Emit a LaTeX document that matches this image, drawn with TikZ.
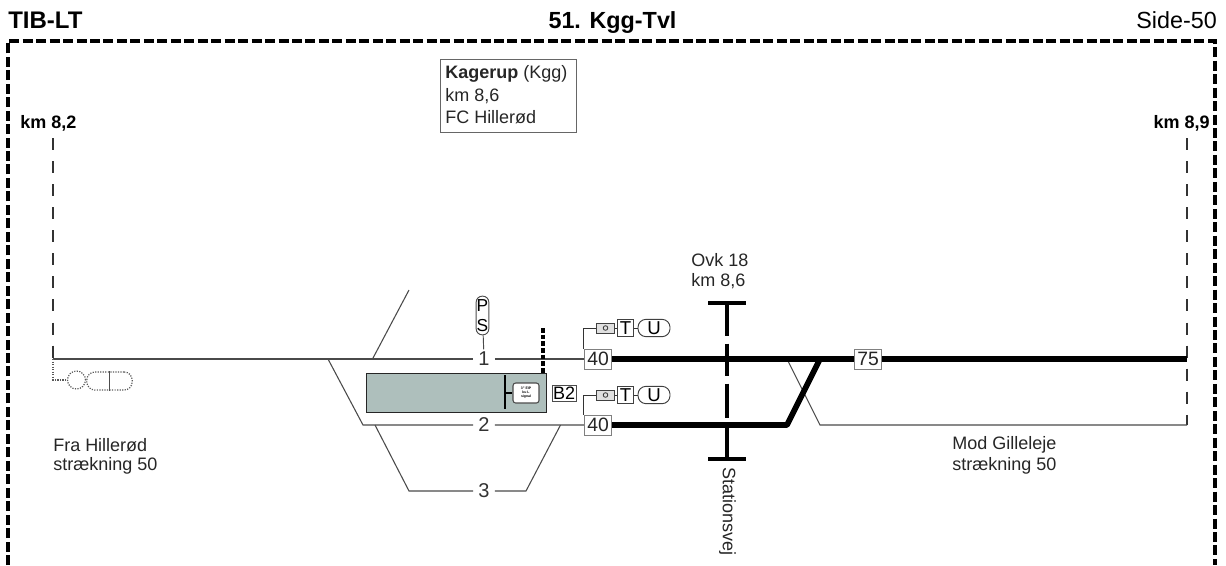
\documentclass[tikz,border=0pt]{standalone}
\usepackage{fontspec}
\setmainfont{Liberation Sans}
\definecolor{platform}{HTML}{AEBFBC}
\definecolor{trackgray}{HTML}{4A4A4A}
\tikzset{
  label/.style={font=\fontsize{13.5}{16}\selectfont, text=black!85, inner sep=0, align=left},
  kmlabel/.style={font=\bfseries\fontsize{13.5}{16}\selectfont, inner sep=0},
  headlabel/.style={font=\fontsize{17.5}{20}\selectfont, inner sep=0, anchor=base},
  trackno/.style={font=\fontsize{15}{18}\selectfont, fill=white, inner sep=0, minimum width=16, minimum height=14, text=black!80},
  speed/.style={draw=black!50, semithick, fill=white, font=\fontsize{14.5}{17}\selectfont, inner sep=0, minimum width=20.5, minimum height=15, text=black!85},
  thin track/.style={trackgray, line width=.8},
  thick track/.style={black, line width=4.3},
  km post/.style={black!80, line width=1.8, dash pattern=on 9 off 8.3},
  sigpart/.style={draw=black!75, line width=.7, fill=white, inner sep=0, font=\fontsize{14}{16}\selectfont},
  ghost/.style={black!65, line width=.9, densely dotted}
}
\begin{document}
\begin{tikzpicture}[x=.75pt, y=-.75pt]
\useasboundingbox (0,0) rectangle (1226,565);
% head
\node[headlabel, font=\bfseries\fontsize{18}{20}\selectfont, anchor=base west] (head) at (8,28) {TIB-LT};
\node[headlabel, font=\bfseries\fontsize{17.5}{20}\selectfont] (title) at (612.5,28) {51. Kgg-Tvl};
\node[headlabel, anchor=base east] (side) at (1217,28) {Side-50};
\draw[black, line width=2.4, dash pattern=on 7.5 off 2.6] (8,565) -- (8,41) -- (1215,41) -- (1215,565);
% station box
\node[draw=black!60, line width=1, anchor=north west, minimum width=102, minimum height=54.5, inner sep=0] (stationbox) at (440,59) {};
\node[label, anchor=west] (stationname) at (445,74) {\textbf{Kagerup} (Kgg)};
\node[label, anchor=west] (stationkm) at (445,96) {km 8,6};
\node[label, anchor=west] (stationfc) at (445,117) {FC Hillerød};
% km posts
\node[kmlabel, anchor=west] (kmleft) at (20,123) {km 8,2};
\node[kmlabel, anchor=east] (kmright) at (1210,123) {km 8,9};
\coordinate (lefttop) at (53,138);
\coordinate (leftend) at (53,359);
\coordinate (righttop) at (1187,138);
\coordinate (rightmid) at (1187,359);
\coordinate (rightend) at (1187,425);
\draw[km post] (lefttop) -- (leftend);
\draw[km post] (righttop) -- (rightend);
% track nodes
\node[trackno] (one) at (484,359) {1};
\node[trackno] (two) at (484,425) {2};
\node[trackno] (three) at (484,491) {3};
\node[speed] (vone) at (598,359) {40};
\node[speed] (vtwo) at (598,425) {40};
\node[speed] (vmain) at (868,359) {75};
\coordinate (a) at (328,359);
\coordinate (b) at (363,425);
\coordinate (c) at (372.5,359);
\coordinate (d) at (409,290);
\coordinate (e) at (375,425);
\coordinate (f) at (409,491);
\coordinate (g) at (526,491);
\coordinate (h) at (560.5,425);
\coordinate (k) at (787,359);
\coordinate (l) at (820,425);
\coordinate (m) at (787,425);
\coordinate (n) at (820,359);
% thin tracks
\draw[thin track] (leftend) -- (one) -- (vone);
\draw[thin track] (a) -- (b) -- (two) -- (vtwo);
\draw[thin track] (c) -- (d);
\draw[thin track] (e) -- (f) -- (three) -- (g) -- (h);
\draw[thin track] (k) -- (l) -- (rightend);
% thick tracks
\draw[thick track] (vone) -- (vmain) -- (rightmid);
\draw[thick track, line join=round] (vtwo) -- (m) -- (n);
% platform
\node[draw=black!85, line width=1, fill=platform, anchor=north west, minimum width=135, minimum height=29, inner sep=0] (platformbox) at (366,373) {};
\coordinate (divtop) at (505,375);
\coordinate (divbot) at (505,409);
\coordinate (divmid) at (505,393);
\draw[black, line width=.8] (divtop) -- (divbot);
\node[draw=black!70, line width=.8, fill=white, rounded corners=2, minimum width=19.5, minimum height=15, inner sep=0, align=center, font=\bfseries\fontsize{2.6}{3}\selectfont] (stopbox) at (526,393) {3'' EIP\\ku L\\signal};
\draw[black, line width=.8] (divmid) -- (stopbox);
\coordinate (stoptop) at (543,328);
\coordinate (stopfoot) at (543,373);
\draw[black, line width=2.4, dash pattern=on 3.5 off 1.5] (stoptop) -- (stopfoot);
\node[draw=black!70, line width=.7, inner sep=0, minimum width=18, minimum height=12, font=\fontsize{13.5}{13.5}\selectfont] (btwo) at (564,393) {B2};
% PS signal
\node[draw=black!70, line width=.7, rounded corners=4.5, minimum width=9.5, minimum height=29, inner sep=0, align=center, font=\fontsize{13}{15}\selectfont] (ps) at (482.5,315.5) {P\\S};
\draw[trackgray, line width=.7] (ps) -- (one);
% signals at the speed boards
\foreach \name/\ypos in {one/328, two/395} {
  \node[sigpart, fill=black!12, minimum width=13, minimum height=7.5] (cam\name) at (605.5,\ypos) {};
  \draw[black!80, line width=.6] (cam\name.center) circle (2.3);
  \node[sigpart, minimum width=12.5, minimum height=12.5] (t\name) at (625.5,\ypos) {T};
  \node[sigpart, rounded corners=6, minimum width=24, minimum height=13] (u\name) at (654,\ypos) {U};
  \draw[black!80, line width=.7] (v\name.north west) |- (cam\name);
  \draw[black!80, line width=.7] (cam\name) -- (t\name);
  \draw[black!80, line width=.7] (t\name) -- (u\name);
}
% left signal, out of use
\coordinate (ghostturn) at (53,380);
\node[draw=black!65, line width=.9, densely dotted, circle, minimum size=13.5, inner sep=0] (ghostlamp) at (76.5,380) {};
\node[draw=black!65, line width=.9, densely dotted, rounded corners=6, minimum width=34, minimum height=13.5, inner sep=0] (ghostplate) at (109.5,381) {};
\draw[ghost] (leftend) -- (ghostturn) -- (ghostlamp);
\draw[ghost] (ghostlamp) -- (ghostplate);
\draw[black!70, line width=.7] (ghostplate.north) -- (ghostplate.south);
% overpass
\coordinate (ovktop) at (727,303);
\coordinate (ovkbot) at (727,459);
\draw[black, line width=2.8, dash pattern=on 25 off 5.5 on 24 off 6 on 25.5 off 8 on 30] (ovktop) -- (ovkbot);
\draw[black, line width=3.6] ([xshift=-14]ovktop) -- ([xshift=14]ovktop);
\draw[black, line width=3.6] ([xshift=-14]ovkbot) -- ([xshift=14]ovkbot);
\node[label, anchor=west] (ovka) at (691,260) {Ovk 18};
\node[label, anchor=west] (ovkb) at (691,281) {km 8,6};
\node[label, rotate=-90, anchor=west] (road) at (727.5,467) {Stationsvej};
% destinations
\node[label, anchor=west] (fraa) at (53,445) {Fra Hillerød};
\node[label, anchor=west] (frab) at (53,466) {strækning 50};
\node[label, anchor=west] (moda) at (952,445) {Mod Gilleleje};
\node[label, anchor=west] (modb) at (952,466) {strækning 50};
\end{tikzpicture}
\end{document}
